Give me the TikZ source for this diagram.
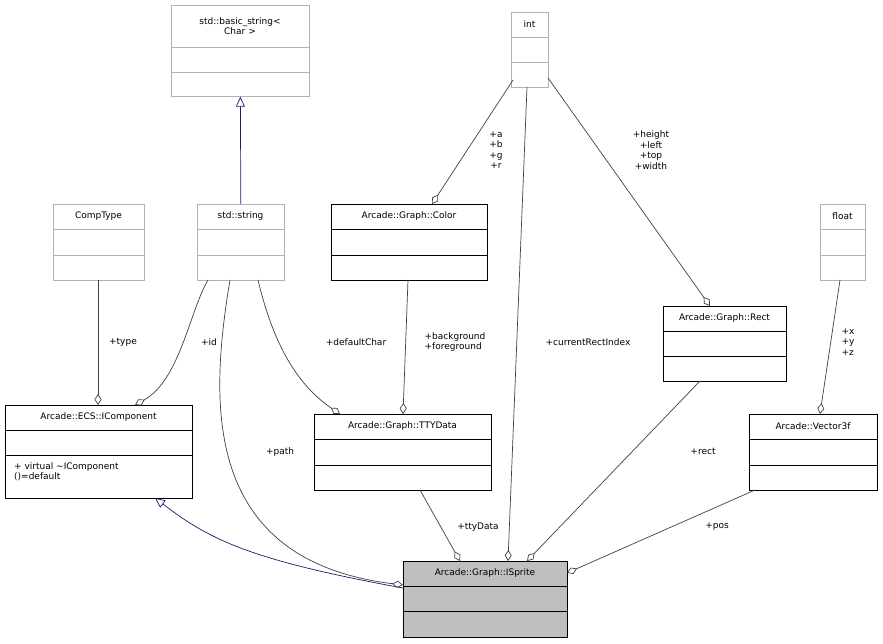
\documentclass[tikz,border=0pt]{standalone}
\usepackage{fontspec}
\setmainfont{DejaVu Sans}
\usetikzlibrary{arrows.meta}
\begin{document}
\begin{tikzpicture}[x=1pt,y=-1pt,font=\fontsize{9}{10.5}\selectfont,
  lbl/.style={align=center,inner sep=0pt},
  agg/.style={draw=black!75,line width=0.7pt,{Diamond[open,length=11pt,width=7pt]}-},
  inh/.style={draw={rgb,255:red,25;green,25;blue,112},line width=0.7pt,{Triangle[open,length=10pt,width=9pt]}-}]
\useasboundingbox (0,0) rectangle (883,644);
\newcommand\cls[8]{% name,x1,y1,x2,y2,ya,yb,title ; color via \clscol
  \node[draw=\clscol,fill=\clsfill,line width=0.7pt,minimum width=#4-#2,minimum height=#5-#3,inner sep=0pt,anchor=north west] (#1) at (#2,#3) {};
  \draw[\clscol,line width=0.7pt] (#2,#6) -- (#4,#6) (#2,#7) -- (#4,#7);
  \node[lbl] at ({(#2+#4)/2},{(#3+#6)/2}) {#8};}
\def\clscol{black!30}\def\clsfill{white}
\cls{bs}{171}{5}{309}{96}{47}{72}{std::basic\_string\textless\\Char \textgreater}
\cls{int}{511}{12}{548}{87}{37}{62}{int}
\cls{ct}{53}{204}{144}{280}{229}{255}{CompType}
\cls{str}{197}{204}{284}{280}{229}{255}{std::string}
\cls{flt}{820}{204}{865}{280}{229}{255}{float}
\def\clscol{black}
\cls{col}{331}{204}{487}{280}{229}{255}{Arcade::Graph::Color}
\cls{rect}{663}{306}{786}{381}{331}{356}{Arcade::Graph::Rect}
\cls{tty}{314}{414}{491}{490}{439}{465}{Arcade::Graph::TTYData}
\cls{vec}{749}{414}{877}{490}{439}{465}{Arcade::Vector3f}
\cls{ic}{5}{405}{192}{498}{430}{455}{Arcade::ECS::IComponent}
\node[lbl,align=left,anchor=north west] (icm) at (14,462) {+ virtual \textasciitilde IComponent\\()=default};
\def\clsfill{black!25}
\cls{sp}{403}{561}{567}{637}{586}{611}{Arcade::Graph::ISprite}
% edges
\draw[inh] (bs.south) -- (str.north);
\draw[inh] (155,498) .. controls (210,540) and (250,560) .. (403,588);
\draw[agg] (98,405) -- (98,280);
\node[lbl] at (123,342) {+type};
\draw[agg] (135,405) .. controls (180,380) and (190,310) .. (208,280);
\node[lbl] at (209,342) {+id};
\draw[agg] (403,585) .. controls (200,560) and (210,400) .. (230,280);
\node[lbl] at (280,452) {+path};
\draw[agg] (340,414) .. controls (290,380) and (270,330) .. (258,280);
\node[lbl] at (356,342) {+defaultChar};
\draw[agg] (403,414) -- (408,280);
\node[lbl,align=left] at (455,342) {+background\\+foreground};
\draw[agg] (508,561) -- (527,87);
\node[lbl] at (588,342) {+currentRectIndex};
\draw[agg] (432,204) -- (513,80);
\node[lbl] at (496,150) {+a\\+b\\+g\\+r};
\draw[agg] (710,306) -- (548,78);
\node[lbl] at (651,150) {+height\\+left\\+top\\+width};
\draw[agg] (820,414) -- (840,280);
\node[lbl,align=left] at (848,342) {+x\\+y\\+z};
\draw[agg] (460,561) -- (420,490);
\node[lbl] at (478,527) {+ttyData};
\draw[agg] (527,561) -- (700,381);
\node[lbl] at (703,451) {+rect};
\draw[agg] (567,573) -- (755,490);
\node[lbl] at (717,527) {+pos};
\end{tikzpicture}
\end{document}
